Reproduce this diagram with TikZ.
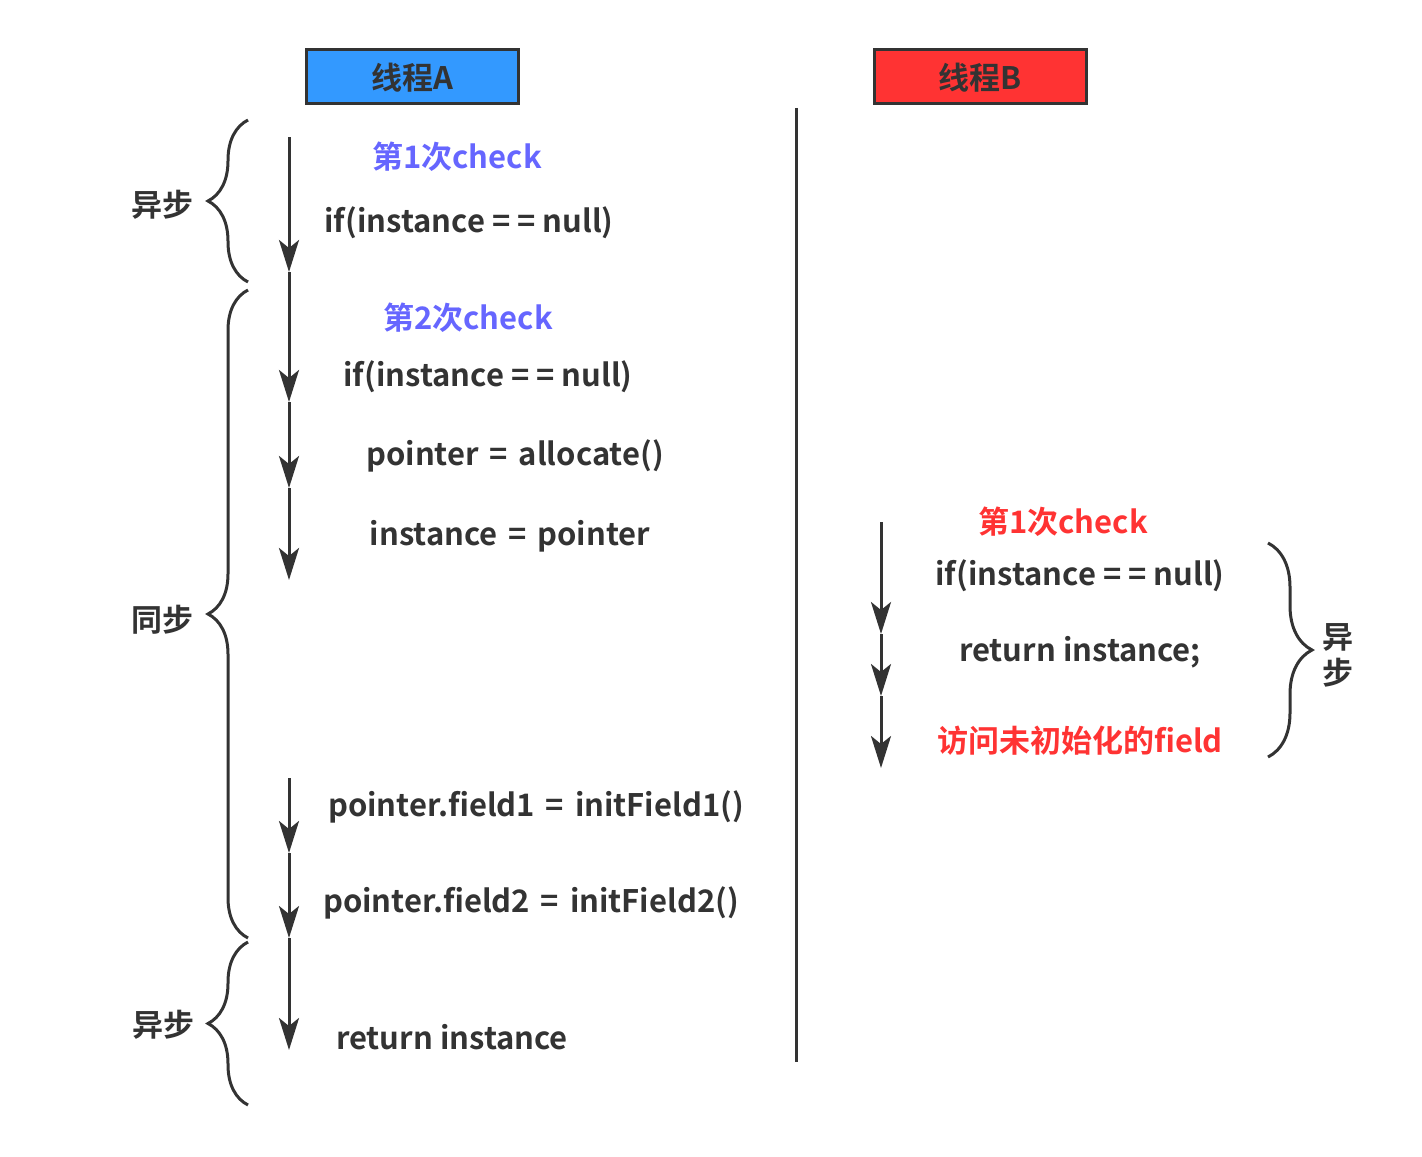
\documentclass[tikz,border=0pt]{standalone}
\usepackage{fontspec}
\setmainfont{Noto Sans CJK SC}[BoldFont={* Bold}]
\usetikzlibrary{arrows.meta,decorations.pathreplacing}
\definecolor{dk}{HTML}{333333}
\definecolor{bl}{HTML}{3399FF}
\definecolor{rd}{HTML}{FF3333}
\definecolor{pu}{HTML}{6666FF}
\newcommand{\eqs}{\hspace{0.35em}=\hspace{0.35em}}
\begin{document}
\begin{tikzpicture}[x=0.5pt,y=-0.5pt,
  txt/.style={text=dk,font=\fontsize{15.5}{18}\selectfont\bfseries,inner sep=0pt},
  hd/.style={draw=dk,line width=1.5pt,minimum width=106pt,minimum height=27pt,font=\fontsize{15.5}{18}\selectfont\bfseries,text=dk},
  arr/.style={draw=dk,line width=1.5pt,-{Stealth[length=16pt 0,width=10pt 0,inset=4pt 0]}},
  br/.style={draw=dk,line width=1.5pt,decorate,decoration={brace,amplitude=20pt,aspect=0.5}},
  pt/.style={coordinate}]
\useasboundingbox (0,0) rectangle (1422,1156);
\node[hd,fill=bl,text depth=0pt] (ha) at (412.5,76.5) {线程A};
\node[hd,fill=rd,text depth=0pt] (hb) at (980,76.5) {线程B};
\coordinate (vt) at (796,108); \coordinate (vb) at (796,1062);
\draw[dk,line width=1.5pt] (vt) -- (vb);
% left text
\node[txt,text=pu] (c1) at (457,157) {第1次check};
\node[txt] (t1) at (469,223) {if(instance = = null)};
\node[txt,text=pu] (c2) at (468,318) {第2次check};
\node[txt] (t2) at (488,377) {if(instance = = null)};
\node[txt] (t3) at (515,456) {pointer\eqs allocate()};
\node[txt] (t4) at (510,536) {instance\eqs pointer};
\node[txt] (t5) at (536,807) {pointer.field1\eqs initField1()};
\node[txt] (t6) at (531,903) {pointer.field2\eqs initField2()};
\node[txt] (t7) at (452,1037) {return instance};
% left arrows
\foreach \n/\y in {a0/137,a1/272,a2/402,a3/488,a4/580,b0/778,b1/853,b2/938,b3/1050}
  \coordinate (\n) at (289,\y);
\draw[arr] (a0) -- (a1); \draw[arr] (a1) -- (a2); \draw[arr] (a2) -- (a3); \draw[arr] (a3) -- (a4);
\draw[arr] (b0) -- (b1); \draw[arr] (b1) -- (b2); \draw[arr] (b2) -- (b3);
% braces left
\coordinate (l1b) at (248,282); \coordinate (l1t) at (248,120);
\coordinate (l2b) at (248,938); \coordinate (l2t) at (248,290);
\coordinate (l3b) at (248,1105); \coordinate (l3t) at (248,942);
\draw[br] (l1b) -- (l1t); \draw[br] (l2b) -- (l2t); \draw[br] (l3b) -- (l3t);
\node[txt] (s1) at (162,205) {异步};
\node[txt] (s2) at (162,620) {同步};
\node[txt] (s3) at (163,1025) {异步};
% right
\node[txt,text=rd] (rc) at (1063,522) {第1次check};
\node[txt] (r1) at (1080,576) {if(instance = = null)};
\node[txt] (r2) at (1080,652) {return instance;};
\node[txt,text=rd] (r3) at (1080,741) {访问未初始化的field};
\foreach \n/\y in {c0/522,c1p/634,c2p/696,c3p/768} \coordinate (\n) at (881,\y);
\draw[arr] (c0) -- (c1p); \draw[arr] (c1p) -- (c2p); \draw[arr] (c2p) -- (c3p);
\coordinate (rbt) at (1268,543); \coordinate (rbb) at (1268,757);
\draw[br,decoration={amplitude=22pt}] (rbt) -- (rbb);
\node[txt,align=center] (s4) at (1338,655) {异\\步};
\end{tikzpicture}
\end{document}
